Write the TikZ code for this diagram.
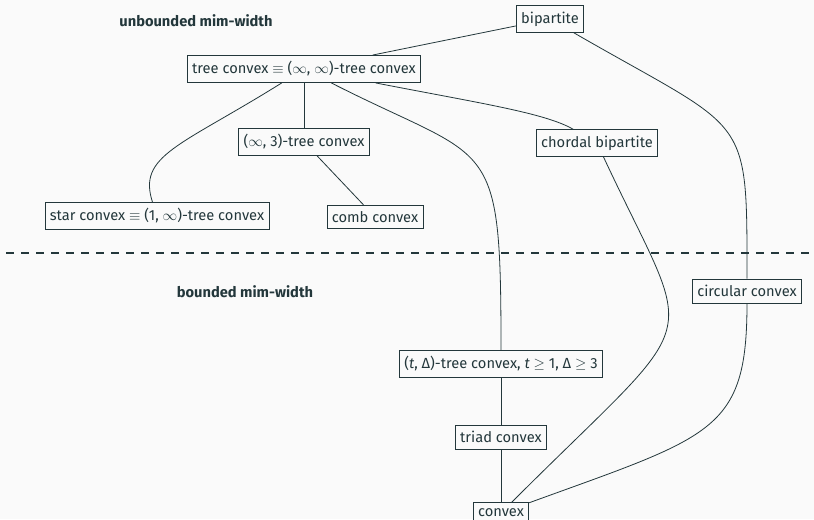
\documentclass[tikz,border=0pt]{standalone}
\usepackage{fontspec}
\setmainfont{Fira Sans}
\definecolor{ink}{HTML}{23373B}
\definecolor{paper}{HTML}{FAFAFA}
\begin{document}
\begin{tikzpicture}
[x = .75pt, y = .75pt, ink, line width=.6pt, font=\fontsize{11}{13}\selectfont,
cls/.style ={draw=ink, fill=paper, text=ink, inner xsep=3.6pt, inner ysep=4.6pt},
lvl/.style ={text=ink, font=\fontsize{11}{13}\selectfont\bfseries},
cut/.style ={line width=1.6pt, dash pattern=on 6pt off 5.25pt}]
\useasboundingbox (0,0) rectangle (814,-519);
\fill[paper] (0,0) rectangle (814,-519);
\draw[cut] (6,-253) -- (814,-253);
\node[lvl] (unb) at (196,-21) {unbounded mim-width};
\node[lvl] (bnd) at (245,-292) {bounded mim-width};
\node[cls] (bip) at (550,-19) {bipartite};
\node[cls] (tree) at (304,-69) {tree convex $\equiv$ ($\infty$, $\infty$)-tree convex};
\node[cls] (inf3) at (304,-142) {($\infty$, 3)-tree convex};
\node[cls] (chord) at (597,-143) {chordal bipartite};
\node[cls] (star) at (157,-216) {star convex $\equiv$ (1, $\infty$)-tree convex};
\node[cls] (comb) at (375,-217) {comb convex};
\node[cls] (circ) at (747,-291) {circular convex};
\node[cls] (tdelta) at (501,-364) {(\textit{t}, Δ)-tree convex, \textit{t} $\geq$ 1, Δ $\geq$ 3};
\node[cls] (triad) at (501,-437) {triad convex};
\node[cls] (cvx) at (501,-513) {convex};
\draw (bip) -- (tree);
\draw (tree) -- (inf3);
\draw (inf3) -- (comb);
\draw (tree) .. controls +(-148:146) and +(108:64) .. (star);
\draw (tree) .. controls +(-27:211) and +(90:234) .. (tdelta);
\draw (tree) .. controls +(-11:180) and +(150:60) .. (chord);
\draw (bip) .. controls +(-30:230) and +(90:181) .. (circ);
\draw (chord) .. controls +(-65:235) and +(45:295) .. (cvx);
\draw (circ) .. controls +(-90:141) and +(20:225) .. (cvx);
\draw (tdelta) -- (triad) -- (cvx);
\end{tikzpicture}
\end{document}
